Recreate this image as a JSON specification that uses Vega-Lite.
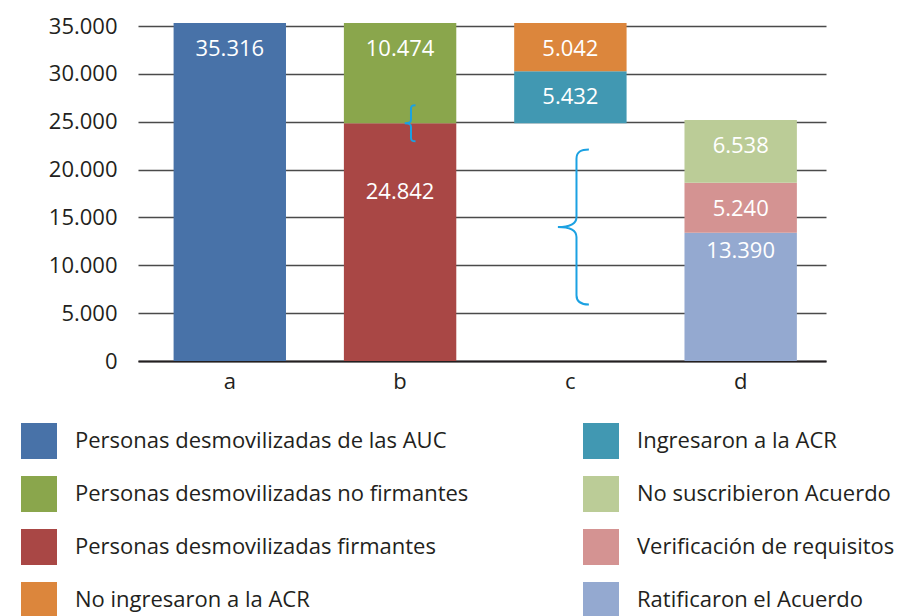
{
  "$schema": "https://vega.github.io/schema/vega-lite/v6.json",
  "width": 688,
  "height": 338,
  "autosize": "none",
  "padding": {"left": 138, "top": 23, "right": 78, "bottom": 255},
  "background": "white",
  "config": {
    "locale": {"number": {"decimal": ",", "thousands": ".", "grouping": [3], "currency": ["$", ""]}},
    "view": {"stroke": null},
    "font": "Open Sans"
  },
  "datasets": {
    "bars": [
      {"cat": "a", "serie": "Personas desmovilizadas de las AUC", "start": 0, "end": 35316, "valor": 35316},
      {"cat": "b", "serie": "Personas desmovilizadas firmantes", "start": 0, "end": 24842, "valor": 24842},
      {"cat": "b", "serie": "Personas desmovilizadas no firmantes", "start": 24842, "end": 35316, "valor": 10474},
      {"cat": "c", "serie": "Ingresaron a la ACR", "start": 24842, "end": 30274, "valor": 5432},
      {"cat": "c", "serie": "No ingresaron a la ACR", "start": 30274, "end": 35316, "valor": 5042},
      {"cat": "d", "serie": "Ratificaron el Acuerdo", "start": 0, "end": 13390, "valor": 13390},
      {"cat": "d", "serie": "Verificación de requisitos", "start": 13390, "end": 18630, "valor": 5240},
      {"cat": "d", "serie": "No suscribieron Acuerdo", "start": 18630, "end": 25168, "valor": 6538}
    ],
    "braceSmall": [{"cat": "b", "value": 24842}],
    "braceBig": [{"cat": "c", "value": 14000}]
  },
  "layer": [
    {
      "data": {"name": "bars"},
      "mark": {"type": "bar"},
      "encoding": {
        "x": {
          "field": "cat", "type": "nominal", "title": null,
          "scale": {"domain": ["a", "b", "c", "d"], "paddingInner": 0.34, "paddingOuter": 0.19, "align": 0.55},
          "axis": {"labelAngle": 0, "labelFontSize": 22, "labelColor": "#231f20", "labelPadding": 10, "ticks": false, "domainColor": "#231f20", "domainWidth": 2.2, "grid": false}
        },
        "y": {
          "field": "start", "type": "quantitative", "title": null,
          "scale": {"domain": [0, 35316], "nice": false, "zero": true},
          "axis": {"values": [0, 5000, 10000, 15000, 20000, 25000, 30000, 35000], "format": ",d", "labelFontSize": 22, "labelColor": "#231f20", "labelPadding": 21, "ticks": false, "domain": false, "grid": true, "gridColor": "#4a4a4a", "gridWidth": 1.3}
        },
        "y2": {"field": "end"},
        "color": {
          "field": "serie", "type": "nominal",
          "scale": {
            "domain": ["Personas desmovilizadas de las AUC", "Ingresaron a la ACR", "Personas desmovilizadas no firmantes", "No suscribieron Acuerdo", "Personas desmovilizadas firmantes", "Verificación de requisitos", "No ingresaron a la ACR", "Ratificaron el Acuerdo"],
            "range": ["#4872a8", "#4198b2", "#8aa64c", "#bbcc97", "#a94745", "#d49392", "#dc863c", "#94a9d0"]
          },
          "legend": {
            "title": null, "orient": "none", "legendX": -117, "legendY": 400, "direction": "horizontal", "columns": 2,
            "symbolType": "square", "symbolSize": 1296, "symbolStrokeWidth": 0, "symbolOpacity": 1,
            "labelFontSize": 22, "labelColor": "#231f20", "labelOffset": 18, "labelLimit": 600,
            "rowPadding": 17, "columnPadding": 114, "padding": 0, "offset": 0
          }
        }
      }
    },
    {
      "data": {"name": "bars"},
      "transform": [{"filter": "datum.valor != 24842 && datum.valor != 13390"}],
      "mark": {"type": "text", "color": "white", "fontSize": 22, "baseline": "middle", "dy": 26},
      "encoding": {
        "x": {"field": "cat", "type": "nominal", "title": null},
        "y": {"field": "end", "type": "quantitative", "title": null},
        "text": {"field": "valor", "type": "quantitative", "format": ",d"}
      }
    },
    {
      "data": {"name": "bars"},
      "transform": [{"filter": "datum.valor == 24842"}],
      "mark": {"type": "text", "color": "white", "fontSize": 22, "baseline": "middle", "dy": 69},
      "encoding": {
        "x": {"field": "cat", "type": "nominal", "title": null},
        "y": {"field": "end", "type": "quantitative", "title": null},
        "text": {"field": "valor", "type": "quantitative", "format": ",d"}
      }
    },
    {
      "data": {"name": "bars"},
      "transform": [{"filter": "datum.valor == 13390"}],
      "mark": {"type": "text", "color": "white", "fontSize": 22, "baseline": "middle", "dy": 18},
      "encoding": {
        "x": {"field": "cat", "type": "nominal", "title": null},
        "y": {"field": "end", "type": "quantitative", "title": null},
        "text": {"field": "valor", "type": "quantitative", "format": ",d"}
      }
    },
    {
      "data": {"name": "braceSmall"},
      "mark": {"type": "point", "filled": false, "stroke": "#1ba1e2", "strokeWidth": 2, "opacity": 1, "xOffset": 10,
        "shape": "M0.3,-1C0.1,-1 0.05,-0.95 0.05,-0.8L0.05,-0.2C0.05,-0.07 0,0 -0.3,0C0,0 0.05,0.07 0.05,0.2L0.05,0.8C0.05,0.95 0.1,1 0.3,1"},
      "encoding": {
        "x": {"field": "cat", "type": "nominal", "title": null},
        "y": {"field": "value", "type": "quantitative", "title": null},
        "size": {"value": 1296}
      }
    },
    {
      "data": {"name": "braceBig"},
      "mark": {"type": "point", "filled": false, "stroke": "#1ba1e2", "strokeWidth": 2, "opacity": 1, "xOffset": 3,
        "shape": "M0.2,-1C0.1,-1 0.04,-0.97 0.04,-0.88L0.04,-0.13C0.04,-0.05 -0.02,0 -0.2,0C-0.02,0 0.04,0.05 0.04,0.13L0.04,0.88C0.04,0.97 0.1,1 0.2,1"},
      "encoding": {
        "x": {"field": "cat", "type": "nominal", "title": null},
        "y": {"field": "value", "type": "quantitative", "title": null},
        "size": {"value": 24025}
      }
    }
  ]
}
